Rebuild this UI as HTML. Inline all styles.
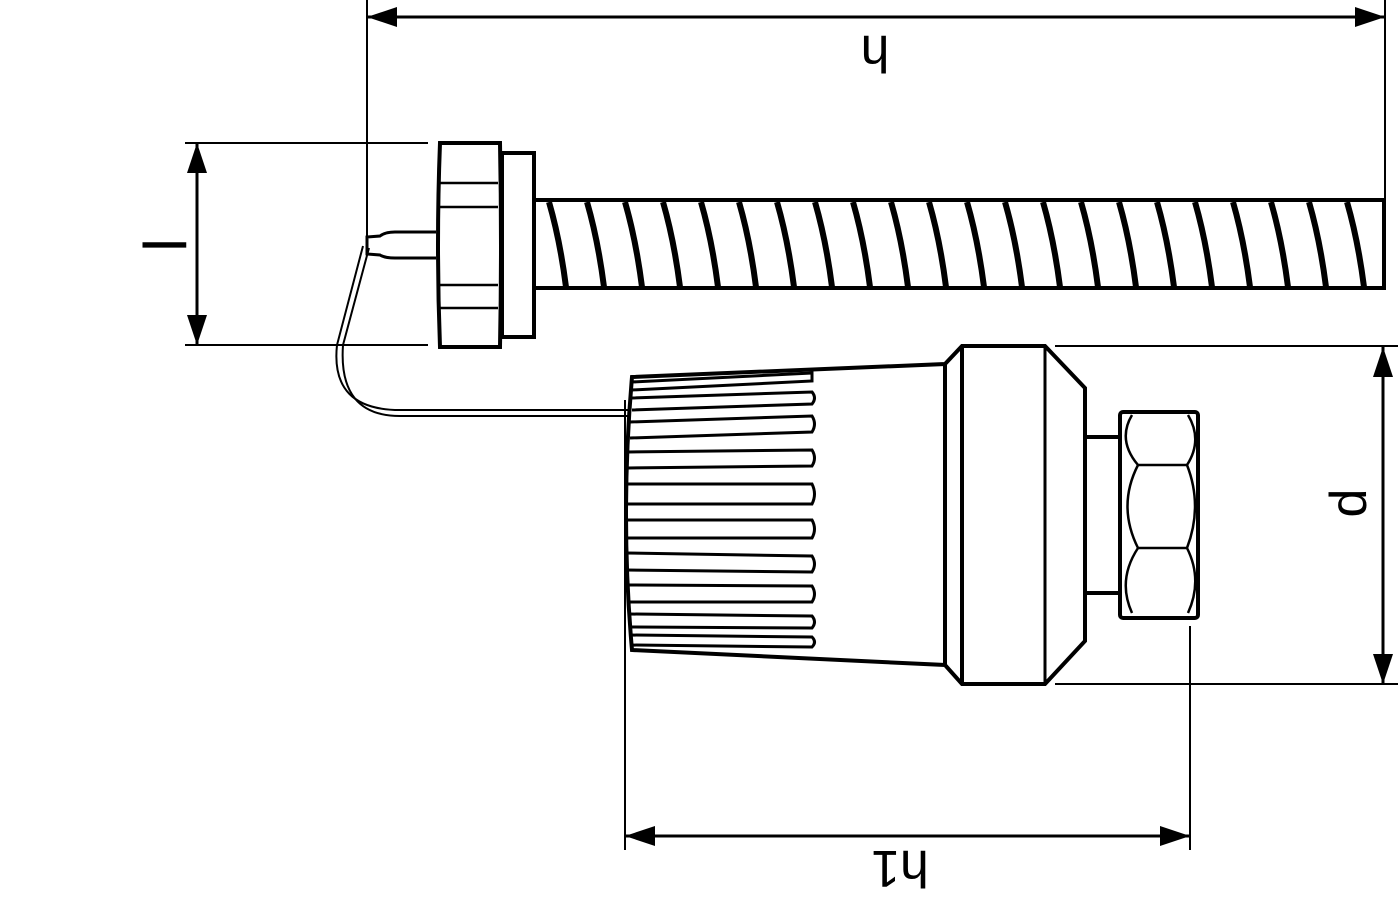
<!DOCTYPE html>
<html><head><style>html,body{margin:0;padding:0;background:#fff;}svg{display:block}</style></head>
<body>
<svg width="1400" height="900" viewBox="0 0 1400 900" xmlns="http://www.w3.org/2000/svg">
<defs>
<marker id="a" viewBox="0 0 30 20" refX="30" refY="10" markerWidth="30" markerHeight="20" markerUnits="userSpaceOnUse" orient="auto"><path d="M0,0 L30,10 L0,20 Z" fill="#000"/></marker>
</defs>
<g stroke="#000" fill="none" stroke-width="2">
<line x1="367" y1="0" x2="367" y2="238"/>
<line x1="1385" y1="0" x2="1385" y2="200"/>
<line x1="876" y1="17" x2="367" y2="17" marker-end="url(#a)" stroke-width="3"/>
<line x1="876" y1="17" x2="1385" y2="17" marker-end="url(#a)" stroke-width="3"/>
<line x1="185" y1="143" x2="428" y2="143"/>
<line x1="185" y1="345" x2="428" y2="345"/>
<line x1="197" y1="240" x2="197" y2="143" marker-end="url(#a)" stroke-width="3"/>
<line x1="197" y1="240" x2="197" y2="345" marker-end="url(#a)" stroke-width="3"/>
<line x1="1055" y1="346" x2="1398" y2="346"/>
<line x1="1055" y1="684" x2="1398" y2="684"/>
<line x1="1383" y1="515" x2="1383" y2="347" marker-end="url(#a)" stroke-width="3"/>
<line x1="1383" y1="515" x2="1383" y2="684" marker-end="url(#a)" stroke-width="3"/>
<line x1="625" y1="400" x2="625" y2="850"/>
<line x1="1190" y1="626" x2="1190" y2="850"/>
<line x1="900" y1="836" x2="625" y2="836" marker-end="url(#a)" stroke-width="3"/>
<line x1="900" y1="836" x2="1190" y2="836" marker-end="url(#a)" stroke-width="3"/>
</g>
<g stroke="#000" fill="none" stroke-width="4">
<path d="M534,200 H1384 V288 H534" />
<g stroke-width="6">
<path d="M549,202 Q560,240 566,287"/><path d="M587,202 Q598,240 604,287"/><path d="M625,202 Q636,240 642,287"/><path d="M663,202 Q674,240 680,287"/><path d="M701,202 Q712,240 718,287"/><path d="M739,202 Q750,240 756,287"/><path d="M777,202 Q788,240 794,287"/><path d="M815,202 Q826,240 832,287"/><path d="M853,202 Q864,240 870,287"/><path d="M891,202 Q902,240 908,287"/><path d="M929,202 Q940,240 946,287"/><path d="M967,202 Q978,240 984,287"/><path d="M1005,202 Q1016,240 1022,287"/><path d="M1043,202 Q1054,240 1060,287"/><path d="M1081,202 Q1092,240 1098,287"/><path d="M1119,202 Q1130,240 1136,287"/><path d="M1157,202 Q1168,240 1174,287"/><path d="M1195,202 Q1206,240 1212,287"/><path d="M1233,202 Q1244,240 1250,287"/><path d="M1271,202 Q1282,240 1288,287"/><path d="M1309,202 Q1320,240 1326,287"/><path d="M1347,202 Q1358,240 1364,287"/>
</g>
<rect x="502" y="153" width="32" height="184"/>
<path d="M440,143 H500 Q502,245 500,347 H440 Q436,245 440,143 Z"/>
<g stroke-width="2.5">
<line x1="440" y1="183" x2="498" y2="183"/><line x1="440" y1="207" x2="498" y2="207"/>
<line x1="440" y1="285" x2="498" y2="285"/><line x1="440" y1="308" x2="498" y2="308"/>
</g>
<path d="M436,232 H395 Q385,232 380,236 L367,237 V254 L380,255 Q385,258 395,258 H436" stroke-width="3"/>
<path d="M363,246 L337,345 Q330,410 400,410 H630" stroke-width="2"/>
<path d="M369,248 L343,345 Q338,416 400,416 H630" stroke-width="2"/>
<path d="M632,377 L945,364 L962,346 H1045 L1085,388 V641 L1045,684 H962 L945,665 L632,650 Q620,515 632,377 Z"/>
<line x1="945" y1="364" x2="945" y2="665"/>
<line x1="962" y1="346" x2="962" y2="684"/>
<line x1="1045" y1="346" x2="1045" y2="684" stroke-width="3"/>
<line x1="1085" y1="437" x2="1120" y2="437"/>
<line x1="1085" y1="593" x2="1120" y2="593"/>
<rect x="1120" y="412" width="78" height="206" rx="3"/>
<g stroke-width="2.5">
<line x1="1138" y1="465" x2="1187" y2="465"/><line x1="1138" y1="548" x2="1187" y2="548"/>
<path d="M1132,415 Q1117,440 1138,465 Q1117,506 1138,548 Q1117,580 1132,613"/>
<path d="M1188,415 Q1203,440 1187,465 Q1203,506 1187,548 Q1203,580 1188,613"/>
</g>
<g stroke-width="3">
<path d="M632,382 L812,373 V381 L632,390"/>
<path d="M632,398 L812,392 Q817,398 812,404 L632,410"/>
<path d="M630,422 L812,416 Q817,424 812,432 L630,438"/>
<path d="M628,452 L812,450 Q817,458 812,466 L628,468"/>
<path d="M626,484 H812 Q817,494 812,504 H626 Z"/>
<path d="M626,520 H812 Q817,529 812,538 H626 Z"/>
<path d="M626,553 L812,556 Q817,564 812,572 L626,570"/>
<path d="M628,585 L812,586 Q817,594 812,602 L628,602"/>
<path d="M630,614 L812,616 Q817,622 812,628 L630,627"/>
<path d="M630,635 L812,637 Q817,642 812,647 L630,645"/>
</g>
</g>
<g font-family="Liberation Sans, sans-serif" font-size="52" fill="#000">
<text x="0" y="19" text-anchor="middle" transform="translate(875,55) rotate(180)">h</text>
<text x="0" y="19" text-anchor="middle" transform="translate(900,870) rotate(180)">h1</text>
<text x="0" y="19" text-anchor="middle" transform="translate(1347,503) rotate(-90)">d</text>
<text x="0" y="19" text-anchor="middle" font-size="60" transform="translate(167,245) rotate(-90)">l</text>
</g>
</svg>
</body></html>
